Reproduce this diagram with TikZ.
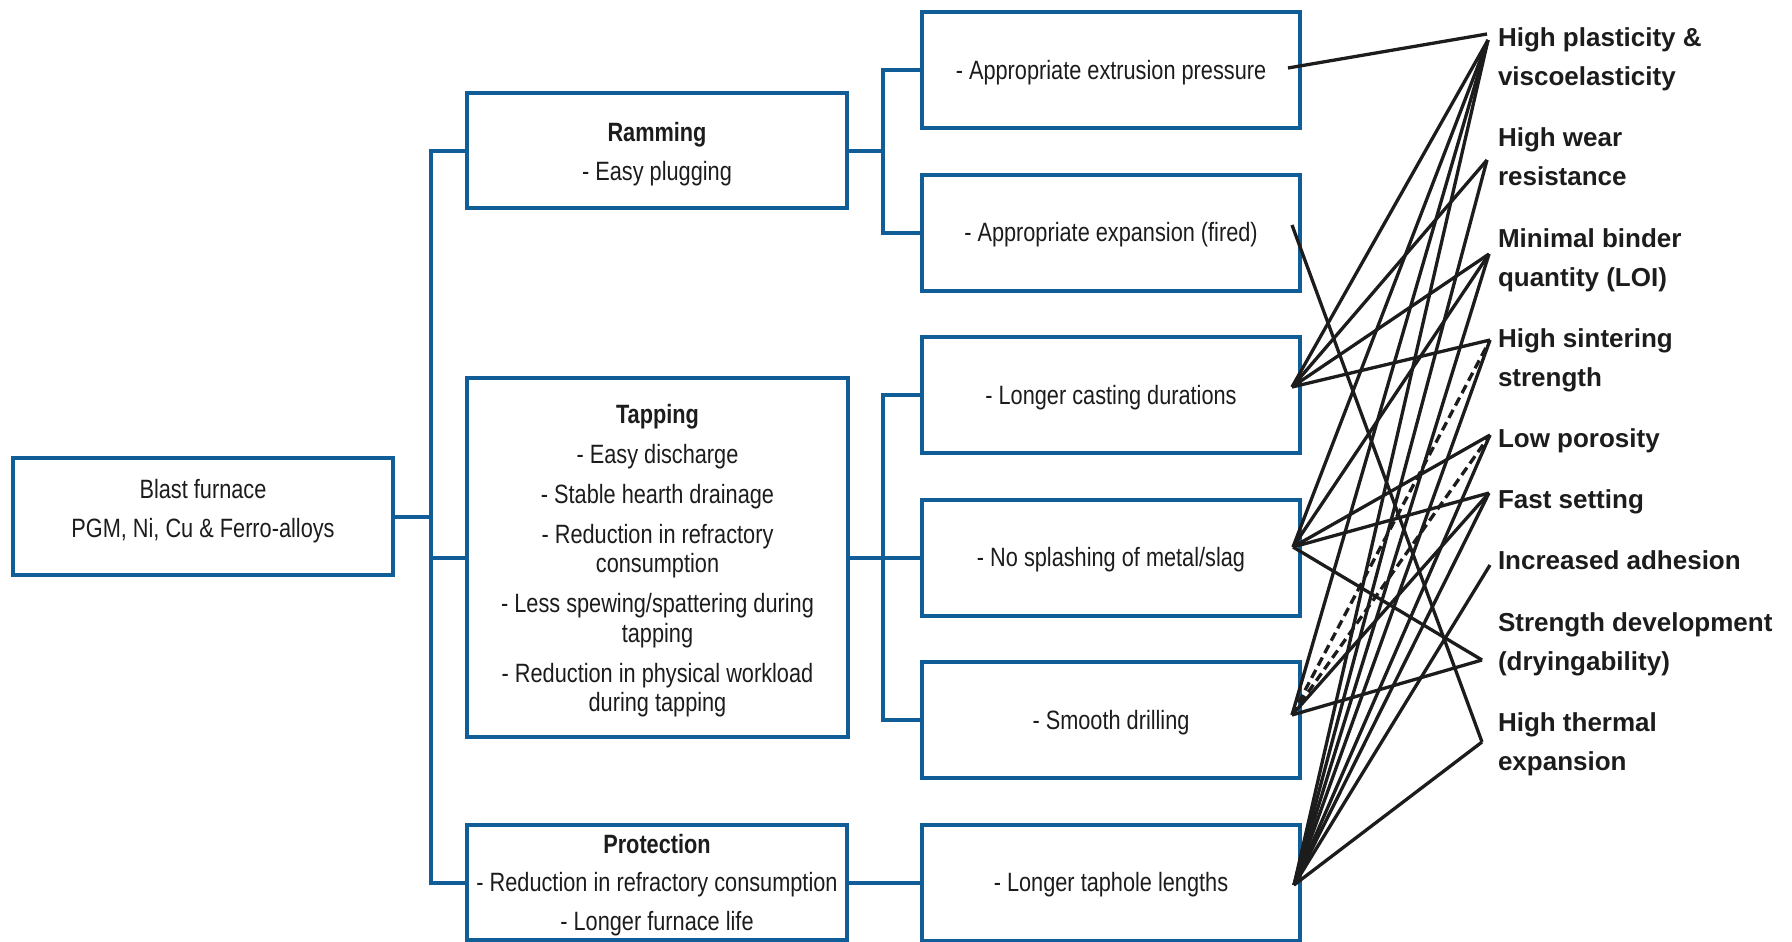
\documentclass[tikz,border=0pt]{standalone}
\usepackage{fontspec}
\setmainfont{Liberation Sans}
\newfontfamily\narrowfont[FakeStretch=0.82]{Liberation Sans}
\definecolor{boxblue}{RGB}{17,93,151}
\definecolor{ink}{RGB}{28,28,28}
\begin{document}
\begin{tikzpicture}[x=1pt,y=-1pt,
  box/.style={draw=boxblue, line width=4pt, inner sep=0pt, outer sep=0pt},
  bl/.style={draw=boxblue, line width=4pt, line join=miter},
  lab/.style={inner sep=0pt, outer sep=0pt, text=ink, align=left,
    font=\bfseries\fontsize{26}{39}\selectfont},
  txt/.style={inner sep=0pt, outer sep=0pt, text=ink, align=center,
    font=\narrowfont\fontsize{26.5}{29.5}\selectfont},
  link/.style={draw=ink, line width=3.3pt},
  dlink/.style={link, dash pattern=on 9pt off 5pt}]
\useasboundingbox (0,0) rectangle (1792,942);

% left boxes
\node[box, minimum width=380pt, minimum height=117pt] (bf) at (203,516.5) {};
\node[txt] (bftxt) at (203,511.5) {Blast furnace\\[9.5pt]PGM, Ni, Cu \& Ferro-alloys};
\node[box, minimum width=380pt, minimum height=115pt] (ram) at (657,150.5) {};
\node[txt] (ramtxt) at (657,154) {\textbf{Ramming}\\[9.5pt]- Easy plugging};
\node[box, minimum width=381pt, minimum height=359pt] (tap) at (657.5,557.5) {};
\node[txt] (taptxt) at (657.5,560.5)
  {\textbf{Tapping}\\[10.5pt]- Easy discharge\\[10.5pt]- Stable hearth drainage\\[10.5pt]- Reduction in refractory\\consumption\\[10.5pt]- Less spewing/spattering during\\tapping\\[10.5pt]- Reduction in physical workload\\during tapping};
\node[box, minimum width=380pt, minimum height=115pt] (pro) at (657,882.5) {};
\node[txt] (protxt) at (657,885.5)
  {\textbf{Protection}\\[8pt]- Reduction in refractory consumption\\[10pt]- Longer furnace life};

% right column boxes
\node[box, minimum width=378pt, minimum height=116pt] (b1) at (1111,70) {};
\node[box, minimum width=378pt, minimum height=116pt] (b2) at (1111,232.5) {};
\node[box, minimum width=378pt, minimum height=116pt] (b3) at (1111,395) {};
\node[box, minimum width=378pt, minimum height=116pt] (b4) at (1111,557.5) {};
\node[box, minimum width=378pt, minimum height=116pt] (b5) at (1111,720) {};
\node[box, minimum width=378pt, minimum height=116pt] (b6) at (1111,882.5) {};
\node[txt] (b1txt) at (1111,72.5) {- Appropriate extrusion pressure};
\node[txt] (b2txt) at (1111,235) {- Appropriate expansion (fired)};
\node[txt] (b3txt) at (1111,397.5) {- Longer casting durations};
\node[txt] (b4txt) at (1111,560) {- No splashing of metal/slag};
\node[txt] (b5txt) at (1111,722.5) {- Smooth drilling};
\node[txt] (b6txt) at (1111,885) {- Longer taphole lengths};

% blue tree connectors
\coordinate (trTop) at (431,150.5);
\coordinate (trBot) at (431,882.5);
\draw[bl] (ram.west) -- (trTop) -- (trBot) -- (pro.west);
\draw[bl] (bf.east) -- (bf.east -| trTop);
\draw[bl] (tap.west -| trTop) -- (tap.west);
\coordinate (rTop) at (883,70);
\coordinate (rBot) at (883,232.5);
\draw[bl] (b1.west) -- (rTop) -- (rBot) -- (b2.west);
\draw[bl] (ram.east) -- (ram.east -| rTop);
\coordinate (tTop) at (883,395);
\coordinate (tBot) at (883,720);
\draw[bl] (b3.west) -- (tTop) -- (tBot) -- (b5.west);
\draw[bl] (tap.east) -- (b4.west);
\draw[bl] (pro.east) -- (b6.west);

% property labels
\node[lab, anchor=north west] (p1) at (1498,28) {High plasticity \&\\viscoelasticity};
\node[lab, anchor=north west] (p2) at (1498,128) {High wear\\resistance};
\node[lab, anchor=north west] (p3) at (1498,229) {Minimal binder\\quantity (LOI)};
\node[lab, anchor=north west] (p4) at (1498,329) {High sintering\\strength};
\node[lab, anchor=base west] (p5) at (1498,447) {Low porosity};
\node[lab, anchor=base west] (p6) at (1498,508) {Fast setting};
\node[lab, anchor=base west] (p7) at (1498,569) {Increased adhesion};
\node[lab, anchor=north west] (p8) at (1498,613) {Strength development\\(dryingability)};
\node[lab, anchor=north west] (p9) at (1498,713) {High thermal\\expansion};

% link end points
\coordinate (s1) at (1288,68);
\coordinate (s2) at (1292,225);
\coordinate (s3) at (1292,387);
\coordinate (s4) at (1293,547);
\coordinate (s5) at (1292,715);
\coordinate (s6) at (1294,885);
\coordinate (t1a) at (1487,34);
\coordinate (t1) at (1488,40);
\coordinate (t2) at (1487,160);
\coordinate (t3) at (1489,254);
\coordinate (t4) at (1490,340);
\coordinate (t5) at (1490,435);
\coordinate (t6) at (1489,493);
\coordinate (t7) at (1490,565);
\coordinate (t8) at (1482,660);
\coordinate (t9) at (1482,742);

% links
\draw[link] (s1) -- (t1a);
\draw[link] (s2) -- (t9);
\foreach \t in {t1,t2,t3,t4} \draw[link] (s3) -- (\t);
\foreach \t in {t1,t3,t5,t6,t8} \draw[link] (s4) -- (\t);
\foreach \t in {t1,t6,t8} \draw[link] (s5) -- (\t);
\foreach \t in {t4,t5} \draw[dlink] (s5) -- (\t);
\foreach \t in {t1,t2,t3,t4,t5,t6,t7,t9} \draw[link] (s6) -- (\t);
\end{tikzpicture}
\end{document}
